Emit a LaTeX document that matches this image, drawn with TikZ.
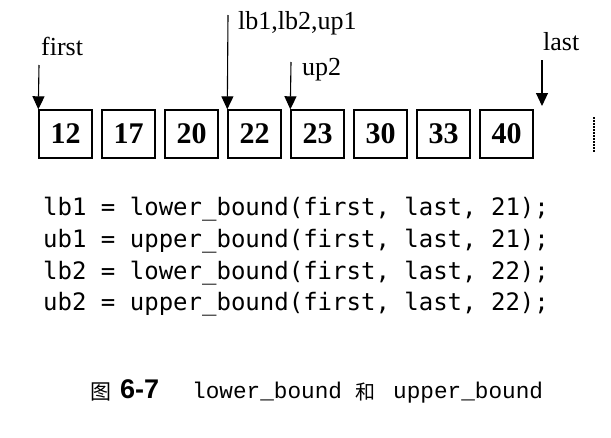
\documentclass[tikz,border=0pt]{standalone}
\usepackage{fontspec}
\setmainfont{Liberation Serif}
\newfontfamily\codefont{DejaVu Sans Mono}
\newfontfamily\capmono{Liberation Mono}
\newfontfamily\capsans{Liberation Sans}
\newfontfamily\cjk{Noto Sans CJK SC}
\usetikzlibrary{arrows.meta}
\begin{document}
\begin{tikzpicture}[x=1pt,y=-1pt,
  cell/.style={draw, line width=1.4pt, minimum width=53pt, minimum height=48pt, inner sep=0pt,
    font=\fontsize{30}{30}\selectfont\bfseries},
  lbl/.style={inner sep=0pt, anchor=base west, font=\fontsize{26}{26}\selectfont},
  ptr/.style={line width=1.1pt, -{Triangle[width=12pt,length=13pt]}},
  code/.style={inner sep=0pt, anchor=base west, font=\codefont\fontsize{24}{24}\selectfont},
  captxt/.style={inner sep=0pt, anchor=base west}]
\useasboundingbox (0,0) rectangle (611,437);
\foreach \v [count=\i] in {12,17,20,22,23,30,33,40}
  \node[cell] (b\i) at ({65.5+63*(\i-1)},134) {\v};
\coordinate (fs) at (39,65);
\coordinate (ls) at (228,15);
\coordinate (us) at (291,62);
\coordinate (la) at (542,60);
\coordinate (lt) at (542,106);
\draw[ptr] (fs) -- (b1.north west);
\draw[ptr] (ls) -- (b4.north west);
\draw[ptr] (us) -- (b5.north west);
\draw[ptr] (la) -- (lt);
\node[lbl] (tfirst) at (41,55) {first};
\node[lbl] (tlb) at (238,29) {lb1,lb2,up1};
\node[lbl] (tup) at (302,75) {up2};
\node[lbl] (tlast) at (543,50) {last};
\coordinate (d1) at (594,117);
\coordinate (d2) at (594,153);
\draw[line width=1.5pt, dash pattern=on 1.5pt off 1.5pt] (d1) -- (d2);
\node[code] (c1) at (43,215) {lb1 = lower\_bound(first, last, 21);};
\node[code] (c2) at (43,247) {ub1 = upper\_bound(first, last, 21);};
\node[code] (c3) at (43,279) {lb2 = lower\_bound(first, last, 22);};
\node[code] (c4) at (43,310) {ub2 = upper\_bound(first, last, 22);};
\node[captxt, font=\cjk\fontsize{21}{21}\selectfont] (k1) at (90,399) {图};
\node[captxt, font=\capsans\bfseries\fontsize{27}{27}\selectfont] (k2) at (120,398) {6-7};
\node[captxt, font=\capmono\fontsize{22.7}{22.7}\selectfont] (k3) at (192,398) {lower\_bound};
\node[captxt, font=\cjk\fontsize{20}{20}\selectfont] (k4) at (355,399) {和};
\node[captxt, font=\capmono\fontsize{22.7}{22.7}\selectfont] (k5) at (393,398) {upper\_bound};
\end{tikzpicture}
\end{document}
